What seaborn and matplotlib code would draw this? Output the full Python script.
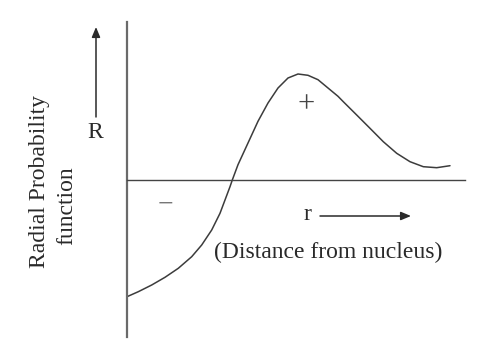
import matplotlib
matplotlib.use("Agg")
import matplotlib.pyplot as plt
import seaborn as sns
import pandas as pd

# Data (r: distance from nucleus, R: radial function)
r_vals = [0.0, 1.13, 2.47, 3.8, 5.13, 6.47, 7.47, 8.47, 9.3, 9.8, 10.3, 10.53,
          11.1, 12.1, 13.1, 14.1, 15.1, 16.1, 17.1, 18.1, 19.1, 20.1, 21.1,
          21.63, 22.97, 24.3, 25.63, 26.97, 28.3, 29.63, 30.97, 32.3]
R_vals = [-11.67, -11.17, -10.5, -9.73, -8.83, -7.67, -6.5, -5.0, -3.33, -2.0,
          -0.67, 0.0, 1.53, 3.7, 5.87, 7.7, 9.2, 10.2, 10.6, 10.47, 10.03, 9.2,
          8.37, 7.83, 6.5, 5.17, 3.83, 2.67, 1.83, 1.33, 1.23, 1.43]

ylabel_lines = ["Radial Probability", "function"]
y_symbol = "R"
x_symbol = "r"
x_caption = "(Distance from nucleus)"
pos_sign = "+"
neg_sign = "\u2212"

df = pd.DataFrame({"r": r_vals, "R": R_vals})

sns.set_style("white")
plt.rcParams["font.family"] = ["Liberation Serif", "DejaVu Serif"]

W, H = 489, 353
fig = plt.figure(figsize=(W / 100, H / 100), dpi=100)
ax = fig.add_axes([0, 0, 1, 1])

sns.lineplot(data=df, x="r", y="R", sort=False, color="#3c3c3c", linewidth=1.1,
             ax=ax, solid_joinstyle="round", solid_capstyle="round")

ax.set_xlim(-12.7, 36.2)
ax.set_ylim(-17.3, 18.0)
ax.set_xlabel("")
ax.set_ylabel("")
ax.set_xticks([])
ax.set_yticks([])

for s in ["top", "right"]:
    ax.spines[s].set_visible(False)
ax.spines["left"].set_position(("data", 0))
ax.spines["left"].set_bounds(-15.7, 15.8)
ax.spines["left"].set_color("#6a6a6a")
ax.spines["left"].set_linewidth(1.6)
ax.spines["bottom"].set_position(("data", 0))
ax.spines["bottom"].set_bounds(0, 33.8)
ax.spines["bottom"].set_color("#444444")
ax.spines["bottom"].set_linewidth(1.0)


def px(x, y):
    return (x / W, 1 - y / H)


fs = 17
tc = "#2a2a2a"
fig.text(*px(40, 182), ylabel_lines[0], rotation=90, ha="center", va="center",
         fontsize=fs, color=tc)
fig.text(*px(67, 206), ylabel_lines[1], rotation=90, ha="center", va="center",
         fontsize=fs, color=tc)
fig.text(*px(95, 133), y_symbol, ha="center", va="center", fontsize=fs, color=tc)
fig.text(*px(306, 105), pos_sign, ha="center", va="center", fontsize=22,
         color="#444444")
fig.text(*px(165, 205), neg_sign, ha="center", va="center", fontsize=20,
         color="#777777")
fig.text(*px(307, 215), x_symbol, ha="center", va="center", fontsize=fs, color=tc)
fig.text(*px(328, 252), x_caption, ha="center", va="center", fontsize=fs, color=tc)

arrow = dict(arrowstyle="-|>,head_length=0.6,head_width=0.25", color="#2a2a2a",
             lw=1.1, shrinkA=0, shrinkB=0)
ax.annotate("", xy=px(96, 27), xytext=px(96, 117), xycoords="figure fraction",
            textcoords="figure fraction", arrowprops=arrow)
ax.annotate("", xy=px(411, 216), xytext=px(320, 216), xycoords="figure fraction",
            textcoords="figure fraction", arrowprops=arrow)

fig.savefig("out.png", dpi=100)
